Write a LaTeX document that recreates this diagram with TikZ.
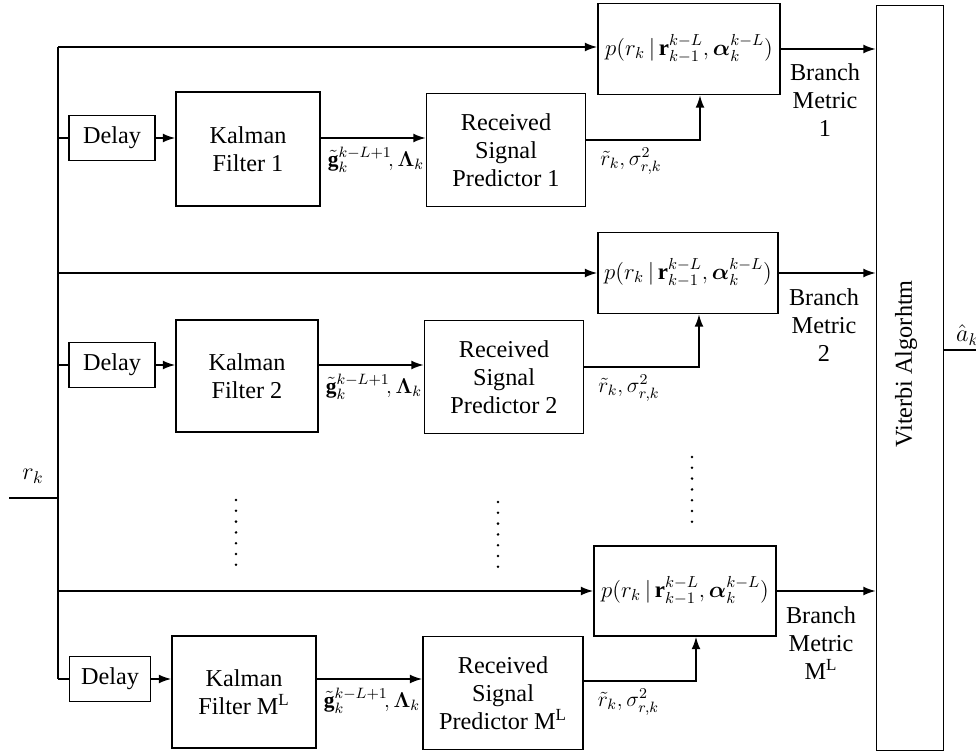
\RequirePackage{fix-cm}
\documentclass[tikz,border=0pt]{standalone}
\usepackage{amsmath}
\usepackage{fontspec}
\setmainfont{Liberation Serif}
\usetikzlibrary{arrows.meta}
\newcommand{\pdfterm}{\fontsize{13}{15}\selectfont$p(r_k\,|\,\mathbf{r}_{k-1}^{k-L},\boldsymbol{\alpha}_k^{k-L})$}
\begin{document}
\begin{tikzpicture}[x=0.02cm,y=-0.02cm,font=\fontsize{13.8}{16}\selectfont]
	\tikzset{block_box/.style={draw, line width=0.9pt, align=center, inner sep=0pt},
		sig_line/.style={line width=0.9pt},
		sig_arrow/.style={line width=0.9pt, -{Latex[length=7pt,width=5pt]}},
		plain_text/.style={align=center, inner sep=1pt},
		math_lab/.style={anchor=north west, inner sep=1pt, font=\fontsize{12.2}{14}\selectfont}}
	\useasboundingbox (0,0) rectangle (976,753);
	% blocks of the three rows
	\node[block_box, minimum width=1.72cm, minimum height=0.9cm] (d1) at (112,138) {Delay};
	\node[block_box, minimum width=1.72cm, minimum height=0.9cm] (d2) at (112,365) {Delay};
	\node[block_box, minimum width=1.62cm, minimum height=0.9cm] (d3) at (110,679) {Delay};
	\node[block_box, minimum width=2.88cm, minimum height=2.28cm] (k1) at (248,149) {Kalman\\Filter 1};
	\node[block_box, minimum width=2.84cm, minimum height=2.24cm] (k2) at (247,376) {Kalman\\Filter 2};
	\node[block_box, minimum width=2.88cm, minimum height=2.24cm] (k3) at (244,692) {Kalman\\Filter M\textsuperscript{L}};
	\node[block_box, minimum width=3.18cm, minimum height=2.26cm] (s1) at (506,150) {Received\\Signal\\Predictor 1};
	\node[block_box, minimum width=3.18cm, minimum height=2.26cm] (s2) at (504,377) {Received\\Signal\\Predictor 2};
	\node[block_box, minimum width=3.2cm, minimum height=2.26cm] (s3) at (503,693) {Received\\Signal\\Predictor M\textsuperscript{L}};
	\node[block_box, minimum width=3.64cm, minimum height=1.82cm] (p1) at (689,49) {\pdfterm};
	\node[block_box, minimum width=3.6cm, minimum height=1.62cm] (p2) at (688,273) {\pdfterm};
	\node[block_box, minimum width=3.64cm, minimum height=1.8cm] (p3) at (685,591) {\pdfterm};
	\node[block_box, minimum width=1.34cm, minimum height=14.9cm] (vit) at (910,378) {};
	\node[rotate=90] (vit_text) at (906,364) {Viterbi Algorhtm};
	% input bus
	\coordinate (bus_top) at (58,47);
	\coordinate (bus_bot) at (58,679);
	\coordinate (r_in) at (9,498);
	\draw[sig_line] (bus_top) -- (bus_bot);
	\draw[sig_line] (r_in) -- (r_in -| bus_top);
	\node[plain_text] (r_lab) at (33,476) {$r_k$};
	\draw[sig_arrow] (bus_top) -- (p1.west |- bus_top);
	\draw[sig_arrow] (p2.west -| bus_top) -- (p2.west);
	\draw[sig_arrow] (p3.west -| bus_top) -- (p3.west);
	\draw[sig_line] (d1.west -| bus_top) -- (d1.west);
	\draw[sig_line] (d2.west -| bus_top) -- (d2.west);
	\draw[sig_line] (bus_bot) -- (d3.west);
	% row connectors
	\foreach \r in {1,2,3}{
		\draw[sig_arrow] (d\r.east) -- (d\r.east -| k\r.west);
		\draw[sig_arrow] (k\r.east |- d\r.east) -- (s\r.west |- d\r.east);
		\draw[sig_arrow] ([yshift=-0.04cm]s\r.east |- d\r.east) -| ([xshift=0.22cm]p\r.south);
		\draw[sig_arrow] (p\r.east) -- (p\r.east -| vit.west);
		\node[math_lab] (g\r) at ([xshift=0.1cm,yshift=-0.14cm]k\r.east |- d\r.east) {$\tilde{\mathbf{g}}_k^{k-L+1}\!,\boldsymbol{\Lambda}_k$};
		\node[math_lab] (e\r) at ([xshift=0.24cm,yshift=-0.16cm]s\r.east |- d\r.east) {$\tilde{r}_k,\sigma_{r,k}^2$};
	}
	\node[plain_text] (b1) at (825,100) {Branch\\Metric\\1};
	\node[plain_text] (b2) at (824,325) {Branch\\Metric\\2};
	\node[plain_text] (b3) at (821,643) {Branch\\Metric\\M\textsuperscript{L}};
	% output
	\coordinate (a_out) at (976,350);
	\draw[sig_line] (a_out -| vit.east) -- (a_out);
	\node[anchor=west, inner sep=1pt] (a_lab) at (954,335) {$\hat{a}_k$};
	% dots between rows
	\foreach \x/\y in {236/500, 498/502, 692/457}
		\foreach \i in {0,...,6}
			\fill (\x,\y+\i*10.8) circle (0.8pt);
\end{tikzpicture}
\end{document}
